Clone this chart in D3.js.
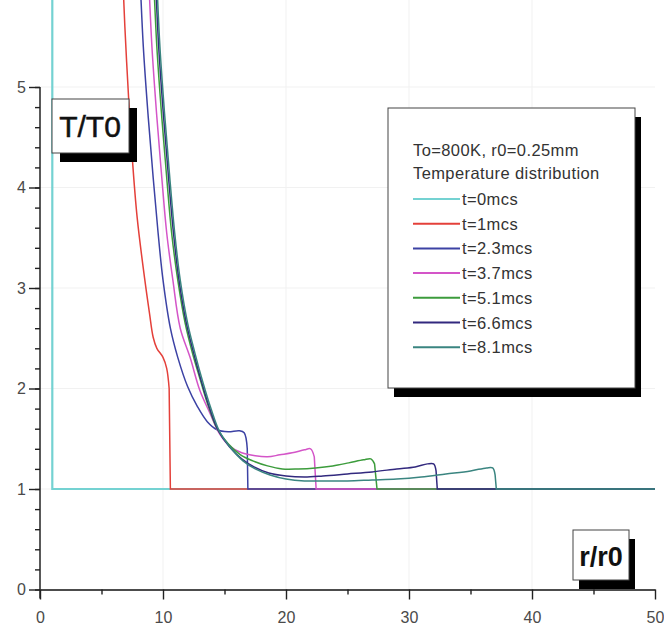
<!DOCTYPE html>
<html>
<head>
<meta charset="utf-8">
<script src="https://cdn.jsdelivr.net/npm/d3@7"></script>
<style>
  body { margin: 0; background: #fff; }
  svg { display: block; font-family: Arial, "Liberation Sans", sans-serif; }
</style>
</head>
<body>
<div id="chart"></div>
<script>
// curve data: [r/r0, T/T0]
const t0 = [[1, 6.2], [1, 1], [50, 1]];
const t1 = [[6.7, 6.2], [6.9, 5.6], [7.2, 4.9], [7.5, 4.3], [7.9, 3.7], [8.5, 3.1], [8.9, 2.75], [9.2, 2.51], [9.5, 2.4], [10.0, 2.31], [10.3, 2.2], [10.5, 2.0], [10.6, 1.0], [50, 1]];
const t23 = [[8.1, 6.2], [8.4, 5.4], [8.8, 4.7], [9.2, 4.1], [9.6, 3.55], [10.0, 3.08], [10.6, 2.6], [11.2, 2.31], [12.0, 2.02], [12.8, 1.82], [13.6, 1.67], [14.4, 1.59], [15.3, 1.57], [16.2, 1.58], [16.6, 1.56], [16.85, 1.4], [16.9, 1.0], [50, 1]];
const t37 = [[8.8, 6.2], [9.1, 5.4], [9.5, 4.7], [9.9, 4.1], [10.3, 3.55], [10.8, 3.08], [11.4, 2.6], [12.2, 2.31], [13.0, 1.98], [13.8, 1.76], [14.6, 1.55], [15.5, 1.42], [16.4, 1.36], [17.5, 1.33], [18.5, 1.32], [19.5, 1.34], [20.5, 1.36], [21.5, 1.39], [22.0, 1.4], [22.3, 1.32], [22.45, 1.0], [50, 1]];
const t51 = [[9.2, 6.2], [9.5, 5.4], [9.9, 4.7], [10.3, 4.1], [10.7, 3.55], [11.2, 3.08], [11.8, 2.65], [12.4, 2.35], [13.0, 2.1], [13.7, 1.82], [14.4, 1.6], [15.3, 1.45], [16.3, 1.34], [17.3, 1.28], [18.5, 1.23], [19.7, 1.2], [21, 1.2], [22.4, 1.21], [23.8, 1.23], [25.1, 1.26], [26.3, 1.29], [26.9, 1.3], [27.2, 1.25], [27.4, 1.0], [50, 1]];
const t66 = [[9.35, 6.2], [9.65, 5.4], [10.05, 4.7], [10.45, 4.1], [10.85, 3.55], [11.3, 3.08], [11.9, 2.65], [12.5, 2.35], [13.1, 2.08], [13.8, 1.8], [14.5, 1.58], [15.4, 1.42], [16.4, 1.3], [17.4, 1.22], [18.6, 1.16], [20, 1.13], [21.5, 1.12], [23, 1.13], [25, 1.15], [27, 1.17], [29, 1.2], [30.5, 1.22], [31.5, 1.25], [32.0, 1.25], [32.2, 1.18], [32.3, 1.0], [50, 1]];
const t81 = [[9.45, 6.2], [9.75, 5.4], [10.15, 4.7], [10.55, 4.1], [10.95, 3.55], [11.4, 3.08], [12.0, 2.65], [12.6, 2.35], [13.2, 2.08], [13.9, 1.8], [14.6, 1.57], [15.5, 1.41], [16.5, 1.28], [17.5, 1.2], [18.7, 1.14], [20, 1.1], [21.5, 1.08], [23, 1.08], [25, 1.08], [27, 1.09], [29, 1.1], [31, 1.12], [33, 1.15], [35, 1.18], [36.3, 1.21], [36.8, 1.21], [37.0, 1.14], [37.1, 1.0], [50, 1]];

const seriesNames = ["t=0mcs", "t=1mcs", "t=2.3mcs", "t=3.7mcs", "t=5.1mcs", "t=6.6mcs", "t=8.1mcs"];
const seriesData = [t0, t1, t23, t37, t51, t66, t81];
const seriesColors = ["#74d2d2", "#e4403a", "#3c42a4", "#d455c8", "#3c9c3c", "#32297e", "#3a8580"];

const xTicks = [0, 10, 20, 30, 40, 50];
const xMinor = [5, 15, 25, 35, 45];
const yTicks = [0, 1, 2, 3, 4, 5];
const yMinor = d3.range(0, 5.01, 0.2);
const legendTitle = ["To=800K, r0=0.25mm", "Temperature distribution"];

const W = 664, H = 626;

const svg = d3.select("div#chart").append("svg")
    .attr("width", W)
    .attr("height", H);

const x = d3.scaleLinear().domain([0, 50]).range([40, 655]);
const y = d3.scaleLinear().domain([0, 5]).range([589.5, 87]);

// faint grid
svg.append("g")
    .selectAll("line")
    .data(xTicks.slice(1, -1))
    .join("line")
    .attr("x1", d => x(d)).attr("x2", d => x(d))
    .attr("y1", 0).attr("y2", y(0))
    .attr("stroke", "#f1f1f1");
svg.append("g")
    .selectAll("line")
    .data(yTicks.slice(1))
    .join("line")
    .attr("x1", x(0)).attr("x2", x(50))
    .attr("y1", d => y(d)).attr("y2", d => y(d))
    .attr("stroke", "#f1f1f1");

// clip curves to the plot area
svg.append("clipPath").attr("id", "plot")
    .append("rect")
    .attr("x", x(0)).attr("y", 0)
    .attr("width", x(50) - x(0) + 2).attr("height", y(0));

const smooth = d3.line()
    .x(d => x(d[0]))
    .y(d => y(d[1]))
    .curve(d3.curveCatmullRom.alpha(0.5));
const straight = d3.line()
    .x(d => x(d[0]))
    .y(d => y(d[1]));

// smooth part down to the front, then straight drop and flat base
function curvePath(pts) {
    const k = pts.findIndex(p => p[1] <= 1);
    if (k < 3) return straight(pts);
    const head = smooth(pts.slice(0, k));
    const tail = straight(pts.slice(k - 1));
    return head + "L" + tail.slice(1);
}

svg.append("g")
    .attr("clip-path", "url(#plot)")
    .selectAll("path")
    .data(seriesData)
    .join("path")
    .attr("d", curvePath)
    .attr("fill", "none")
    .attr("stroke", (d, i) => seriesColors[i])
    .attr("stroke-width", (d, i) => i == 0 ? 2.2 : 1.5);

// axes
const xAxis = svg.append("g")
    .attr("transform", `translate(0,${y(0)})`)
    .call(d3.axisBottom(x).tickValues(xTicks).tickSize(10).tickSizeOuter(0).tickPadding(12));
svg.append("g")
    .attr("transform", `translate(0,${y(0)})`)
    .call(d3.axisBottom(x).tickValues(xMinor).tickSize(5).tickFormat(""))
    .call(g => g.select(".domain").remove());

const yAxis = svg.append("g")
    .attr("transform", `translate(${x(0)},0)`)
    .call(d3.axisLeft(y).tickValues(yTicks).tickFormat(d3.format("d")).tickSize(11).tickSizeOuter(0).tickPadding(3))
    .call(g => g.select(".domain").remove());
svg.append("g")
    .attr("transform", `translate(${x(0)},0)`)
    .call(d3.axisLeft(y).tickValues(yMinor).tickSize(5).tickFormat(""))
    .call(g => g.select(".domain").remove());
svg.append("line")
    .attr("x1", x(0)).attr("x2", x(0))
    .attr("y1", y(5)).attr("y2", y(0) + 9)
    .attr("stroke", "#222").attr("stroke-width", 1.5);

svg.selectAll(".tick line").attr("stroke", "#222").attr("stroke-width", 1.4);
xAxis.select(".domain").attr("stroke", "#111").attr("stroke-width", 1.5);
svg.selectAll(".tick text")
    .attr("font-size", 16)
    .attr("fill", "#4a4a4a")
    .style("font-family", "Arial, 'Liberation Sans', sans-serif");

// boxed axis titles with drop shadow
function shadowBox(bx, by, bw, bh, sx, sy) {
    svg.append("rect")
        .attr("x", bx + sx).attr("y", by + sy)
        .attr("width", bw).attr("height", bh)
        .attr("fill", "#000");
    svg.append("rect")
        .attr("x", bx).attr("y", by)
        .attr("width", bw).attr("height", bh)
        .attr("fill", "#fff")
        .attr("stroke", "#444").attr("stroke-width", 1);
}

shadowBox(52, 99, 77, 54, 8, 9);
svg.append("text")
    .attr("x", 90).attr("y", 137)
    .attr("text-anchor", "middle")
    .attr("font-size", 30)
    .attr("fill", "#111")
    .attr("stroke", "#111").attr("stroke-width", 0.5)
    .text("T/T0");

shadowBox(573, 530, 56, 50, 6, 9);
svg.append("text")
    .attr("x", 601).attr("y", 566)
    .attr("text-anchor", "middle")
    .attr("font-size", 27)
    .attr("font-weight", "bold")
    .attr("fill", "#111")
    .text("r/r0");

// legend
shadowBox(388, 108, 247, 280, 6, 9);
const legend = svg.append("g").attr("transform", "translate(413,0)");
legendTitle.forEach((d, i) => {
    legend.append("text")
        .attr("x", 0).attr("y", 156 + i * 23)
        .attr("font-size", 16.5)
        .attr("letter-spacing", 0.4)
        .attr("fill", "#333")
        .text(d);
});
seriesNames.forEach((d, i) => {
    const ly = 199 + i * 24.7;
    legend.append("line")
        .attr("x1", 0).attr("x2", 47)
        .attr("y1", ly).attr("y2", ly)
        .attr("stroke", seriesColors[i])
        .attr("stroke-width", 2);
    legend.append("text")
        .attr("x", 49).attr("y", ly + 6)
        .attr("font-size", 16.5)
        .attr("letter-spacing", 0.4)
        .attr("fill", "#333")
        .text(d);
});
</script>
</body>
</html>
